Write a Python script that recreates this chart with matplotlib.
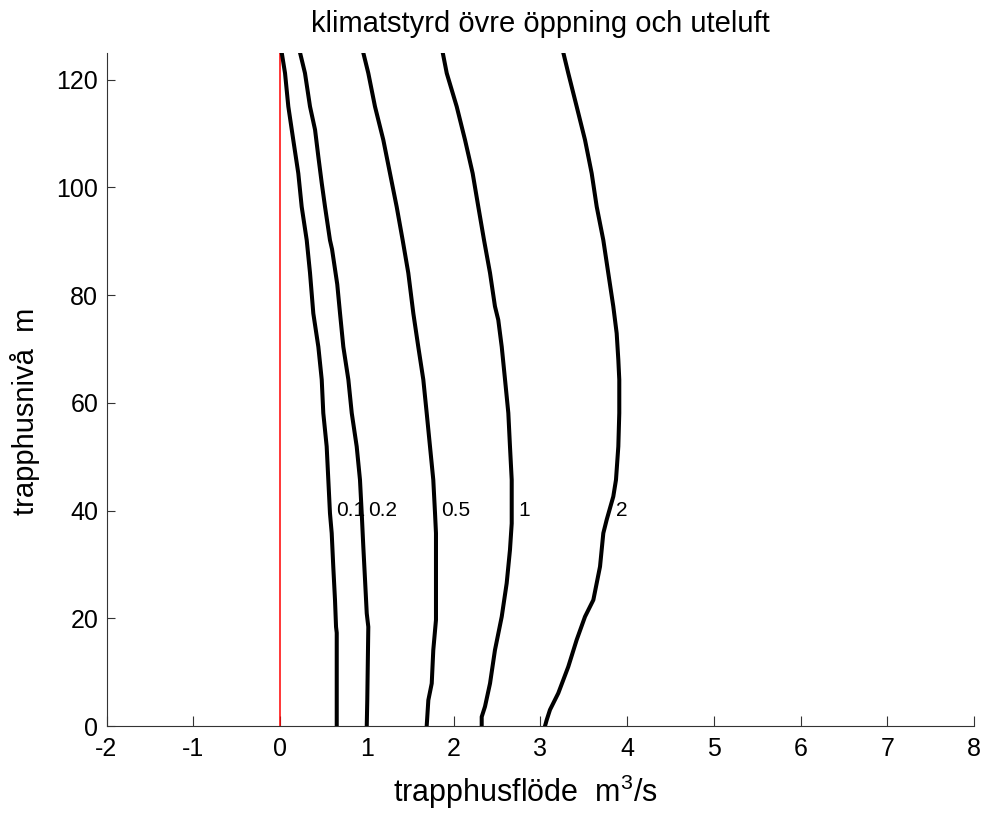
import numpy as np
import matplotlib
matplotlib.use("Agg")
import matplotlib.pyplot as plt

plt.rcParams['font.family'] = ['Liberation Sans', 'DejaVu Sans']
plt.rcParams['mathtext.default'] = 'regular'

# Contour levels and their labels
levels = ["0.1", "0.2", "0.5", "1", "2"]

# Each contour: stairwell flow (x, m3/s) against stairwell level (y, m)
y_01 = [125, 121.2, 115.0, 108.8, 102.6, 96.4, 90.2, 84.1, 76.6, 70.4, 64.3,
        58.1, 51.9, 45.7, 39.5, 35.8, 29.6, 23.4, 18.4, 17.3, 0]
x_01 = [0.020, 0.058, 0.096, 0.153, 0.211, 0.250, 0.308, 0.346, 0.384, 0.442,
        0.481, 0.499, 0.538, 0.557, 0.576, 0.596, 0.614, 0.634, 0.646, 0.654, 0.654]

y_02 = [125, 121.2, 115.0, 110.7, 105.7, 100.8, 96.4, 90.2, 88.5, 82.0, 76.6,
        70.4, 64.3, 58.1, 51.9, 45.7, 39.5, 33.4, 27.2, 20.9, 18.4, 4.8, 0]
x_02 = [0.231, 0.288, 0.346, 0.404, 0.442, 0.481, 0.519, 0.576, 0.600, 0.660,
        0.692, 0.730, 0.788, 0.827, 0.884, 0.922, 0.942, 0.960, 0.980, 1.000,
        1.018, 1.006, 1.000]

y_05 = [125, 121.2, 115.0, 108.8, 102.6, 96.4, 90.2, 84.1, 76.6, 70.4, 64.3,
        58.1, 51.9, 45.7, 39.5, 35.8, 23.4, 19.7, 14.1, 7.9, 4.8, 0]
x_05 = [0.960, 1.018, 1.095, 1.191, 1.268, 1.345, 1.414, 1.479, 1.537, 1.594,
        1.652, 1.691, 1.729, 1.767, 1.787, 1.798, 1.798, 1.798, 1.767, 1.749,
        1.710, 1.691]

y_1 = [125, 121.2, 115.0, 108.8, 102.6, 96.4, 90.2, 84.1, 77.9, 75.4, 70.4,
       64.3, 58.1, 51.9, 45.7, 39.5, 37.6, 32.7, 26.5, 20.3, 14.1, 7.9, 3.6,
       1.7, 0]
x_1 = [1.876, 1.922, 2.037, 2.133, 2.221, 2.286, 2.352, 2.421, 2.478, 2.516,
       2.556, 2.594, 2.632, 2.651, 2.671, 2.671, 2.671, 2.651, 2.613, 2.556,
       2.478, 2.421, 2.363, 2.325, 2.325]

y_2 = [125, 121.2, 115.0, 108.8, 102.6, 96.4, 90.2, 84.1, 77.9, 72.9, 68.0,
       64.3, 58.1, 51.9, 45.7, 42.6, 38.3, 35.8, 29.6, 23.4, 20.3, 16.0, 11.0,
       6.1, 3.0, 1.1, 0]
x_2 = [3.266, 3.323, 3.420, 3.516, 3.593, 3.651, 3.727, 3.784, 3.842, 3.881,
       3.900, 3.911, 3.911, 3.900, 3.873, 3.842, 3.766, 3.727, 3.689, 3.612,
       3.516, 3.420, 3.323, 3.208, 3.112, 3.074, 3.055]

curves = [(x_01, y_01), (x_02, y_02), (x_05, y_05), (x_1, y_1), (x_2, y_2)]
label_level = 40

x_ticks = list(range(-2, 9))
y_ticks = [0, 20, 40, 60, 80, 100, 120]

fig = plt.figure(figsize=(9.85, 8.16), dpi=100)
ax = fig.add_axes([106.5 / 985, 1 - 726 / 816, (974 - 106.5) / 985, (726 - 52.7) / 816])

ax.axvline(0, color='#ff0000', lw=1.1, zorder=2)

for (xs, ys), lab in zip(curves, levels):
    ax.plot(xs, ys, color='black', lw=2.9, solid_joinstyle='round', zorder=3)
    # place the level label just right of the line at the label height
    order = np.argsort(ys)
    xl = np.interp(label_level, np.asarray(ys)[order], np.asarray(xs)[order])
    ax.annotate(lab, (xl, label_level), xytext=(4.5, 0), textcoords='offset points',
                ha='left', va='center', fontsize=15, zorder=4)

ax.set_xlim(-2, 8)
ax.set_ylim(0, 125)
ax.set_xticks(x_ticks)
ax.set_yticks(y_ticks)
ax.set_xticklabels([str(v) for v in x_ticks])
ax.tick_params(direction='in', width=0.8, labelsize=18, color='#333333')
ax.tick_params(axis='x', length=7, pad=8)
ax.tick_params(axis='y', length=6, pad=6)
for side in ('top', 'right'):
    ax.spines[side].set_visible(False)
for side in ('left', 'bottom'):
    ax.spines[side].set_linewidth(0.8)
    ax.spines[side].set_color('#333333')

ax.set_xlabel('trapphusflöde  m$^3$/s', fontsize=22, labelpad=8)
ax.set_ylabel('trapphusnivå  m', fontsize=21, labelpad=12)
ax.xaxis.label.set_x(0.483)
ax.yaxis.label.set_y(0.468)
ax.set_title('klimatstyrd övre öppning och uteluft', fontsize=21, pad=15)

fig.savefig('out.png', dpi=100)
